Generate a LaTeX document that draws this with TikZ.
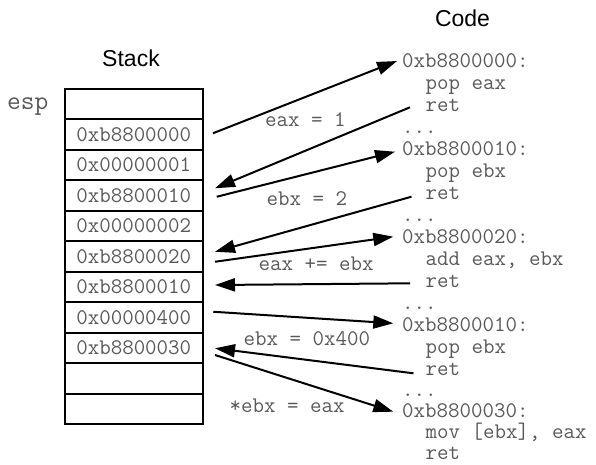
\documentclass[tikz,border=0pt]{standalone}
\usepackage{fontspec}
\setmainfont{Liberation Sans}
\usetikzlibrary{arrows.meta,calc}
\begin{document}
\begin{tikzpicture}[x=1pt,y=-1pt,
  cell/.style={draw, line width=2pt, minimum width=138.5pt, minimum height=30.5pt, inner sep=0pt,
    font=\fontsize{22.3}{24}\ttfamily, text=black!65},
  codetxt/.style={anchor=base west, inner sep=0pt, font=\fontsize{22.3}{24}\ttfamily, text=black!65},
  titletxt/.style={anchor=base, inner sep=0pt, font=\fontsize{23}{26}\selectfont},
  flow/.style={line width=2pt, -{Triangle[length=20pt,width=13pt]}}]
\useasboundingbox (0,0) rectangle (596,464);
% titles
\node[titletxt] (stk) at (131,66.7) {Stack};
\node[titletxt] (code) at (462.5,26.5) {Code};
\node[codetxt, font=\fontsize{26.7}{28}\ttfamily] (esp) at (7,109.5) {esp};
% stack cells
\foreach \t [count=\i from 0] in {{},0xb8800000,0x00000001,0xb8800010,0x00000002,0xb8800020,0xb8800010,0x00000400,0xb8800030,{},{}}
  \node[cell] (r\i) at (133.75,{103.75+30.5*\i}) {\t};
% code lines
\node[codetxt] (c0)  at (402,67)   {0xb8800000:};
\node[codetxt] (c1)  at (425.5,89) {pop eax};
\node[codetxt] (c2)  at (425.5,111) {ret};
\node[codetxt] (c3)  at (402,133)  {...};
\node[codetxt] (c4)  at (402,155)  {0xb8800010:};
\node[codetxt] (c5)  at (425.5,177) {pop ebx};
\node[codetxt] (c6)  at (425.5,199) {ret};
\node[codetxt] (c7)  at (402,221)  {...};
\node[codetxt] (c8)  at (402,243)  {0xb8800020:};
\node[codetxt] (c9)  at (425.5,265) {add eax, ebx};
\node[codetxt] (c10) at (425.5,287) {ret};
\node[codetxt] (c11) at (402,309)  {...};
\node[codetxt] (c12) at (402,331)  {0xb8800010:};
\node[codetxt] (c13) at (425.5,353) {pop ebx};
\node[codetxt] (c14) at (425.5,375) {ret};
\node[codetxt] (c15) at (402,396)  {...};
\node[codetxt] (c16) at (402,417)  {0xb8800030:};
\node[codetxt] (c17) at (425.5,438) {mov [ebx], eax};
\node[codetxt] (c18) at (425.5,459.5) {ret};
% labels
\node[codetxt] (l1) at (265,126.5) {eax = 1};
\node[codetxt] (l2) at (266.5,205) {ebx = 2};
\node[codetxt] (l3) at (258.5,270) {eax += ebx};
\node[codetxt] (l4) at (243.5,345) {ebx = 0x400};
\node[codetxt] (l5) at (229.5,412) {*ebx = eax};
% arrows
\draw[flow] ($(r1.east)+(9,-1)$) -- ($(c0.base west)+(-5,-6)$);
\draw[flow] ($(c2.base west)+(-15.5,-3.7)$) -- ($(r3.east)+(11,-7)$);
\draw[flow] ($(r3.east)+(12.7,1.5)$) -- ($(c4.base west)+(-7,-3.3)$);
\draw[flow] ($(c6.base west)+(-14,-2.3)$) -- ($(r5.east)+(11,-4.5)$);
\draw[flow] ($(r5.east)+(11,5.5)$) -- ($(c8.base west)+(-8.7,-6.3)$);
\draw[flow] ($(c10.base west)+(-15.5,-3.7)$) -- ($(r6.east)+(11,-1.75)$);
\draw[flow] ($(r7.east)+(9.3,-5.5)$) -- ($(c12.base west)+(-8.7,-7.7)$);
\draw[flow] ($(c14.base west)+(-12,-1.7)$) -- ($(r8.east)+(11,0.5)$);
\draw[flow] ($(r8.east)+(11,7.25)$) -- ($(c16.base west)+(-8.7,-5.3)$);
\end{tikzpicture}
\end{document}
